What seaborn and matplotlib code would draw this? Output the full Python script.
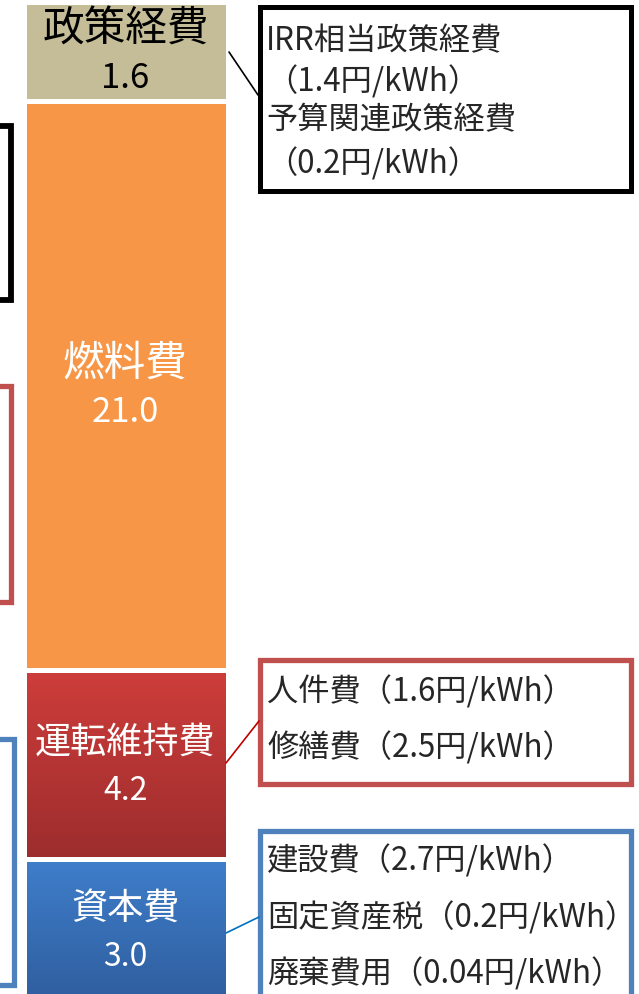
import numpy as np
import pandas as pd
import seaborn as sns
import matplotlib.pyplot as plt
from matplotlib.patches import Rectangle

# stacked cost components (円/kWh), bottom to top
categories = ['資本費', '運転維持費', '燃料費', '政策経費']
values = [3.0, 4.2, 21.0, 1.6]

policy_details = ['IRR相当政策経費', '（1.4円/kWh）', '予算関連政策経費', '（0.2円/kWh）']
om_details = ['人件費（1.6円/kWh）', '修繕費（2.5円/kWh）']
capital_details = ['建設費（2.7円/kWh）', '固定資産税（0.2円/kWh）', '廃棄費用（0.04円/kWh）']

W, H = 639, 994
colors = ['#3E7DC9', '#CD3D3B', '#F79646', '#C4BD97']
gradients = {0: ('#3F7ECB', '#2F5E9E'), 1: ('#CE3D3B', '#9C2D2D')}

sns.set_theme(style='white')
plt.rcParams['font.family'] = ['Noto Sans CJK JP', 'DejaVu Sans']

fig = plt.figure(figsize=(W / 100, H / 100), dpi=100)
ax = fig.add_axes([0, 0, 1, 1])

df = pd.DataFrame({'項目': categories, '値': values})
df['bottom'] = df['値'].cumsum() - df['値']
for i, row in df.iterrows():
    sns.barplot(x=['x'], y=[row['値']], bottom=row['bottom'], color=colors[i],
                saturation=1, width=0.8, edgecolor='white', linewidth=3.6, ax=ax)

# the stack in the source is not drawn to scale: piecewise linear value axis
cum = np.concatenate([[0], np.cumsum(values)])
edge_px = H - np.array([1001, 859, 669.5, 101, 2.0])


def _pw(v, xs, ys):
    v = np.asarray(v, dtype=float)
    out = np.interp(v, xs, ys)
    lo = ys[0] + (v - xs[0]) * (ys[1] - ys[0]) / (xs[1] - xs[0])
    hi = ys[-1] + (v - xs[-1]) * (ys[-1] - ys[-2]) / (xs[-1] - xs[-2])
    return np.where(v < xs[0], lo, np.where(v > xs[-1], hi, out))


def forward(v):
    return _pw(v, cum, edge_px)


def inverse(d):
    return _pw(d, edge_px, cum)


ax.set_yscale('function', functions=(forward, inverse))
ax.set_ylim(float(inverse(0)), float(inverse(H)))
ppu = (227.5 - 23.5) / 0.8
x0 = -0.4 - 23.5 / ppu
ax.set_xlim(x0, x0 + W / ppu)
ax.set_axis_off()

# vertical gradients on the lower two segments
for i, (top, bot) in gradients.items():
    p = ax.patches[i]
    bb = p.get_window_extent()
    (ax0, ay0), (ax1, ay1) = ax.transAxes.inverted().transform([[bb.x0, bb.y0], [bb.x1, bb.y1]])
    c1 = np.array(plt.matplotlib.colors.to_rgb(top))
    c2 = np.array(plt.matplotlib.colors.to_rgb(bot))
    t = np.linspace(0, 1, 256)[:, None]
    img = (c1 * (1 - t) + c2 * t)[:, None, :]
    ax.imshow(img, extent=[ax0, ax1, ay0, ay1], transform=ax.transAxes,
              aspect='auto', origin='upper', zorder=1.5, interpolation='bilinear')
    p.set_facecolor('none')
    p.set_zorder(2)

# segment labels
name_sizes = [26, 26, 30, 30]
value_sizes = [23, 23, 25, 25]
text_colors = ['white', 'white', 'white', 'black']
for i, (name, v) in enumerate(zip(categories, values)):
    mid = (cum[i] + cum[i + 1]) / 2
    ax.annotate(name, xy=(0, mid), xytext=(0, 15.5), textcoords='offset points',
                ha='center', va='center', fontsize=name_sizes[i], color=text_colors[i], zorder=4)
    ax.annotate(f'{v:.1f}', xy=(0, mid), xytext=(0, -19.5), textcoords='offset points',
                ha='center', va='center', fontsize=value_sizes[i], color=text_colors[i], zorder=4)


def px(x, y):
    return x / W, 1 - y / H


def box(x0p, y0p, x1p, y1p, color, lw):
    (a, b), (c, d) = px(x0p, y1p), px(x1p, y0p)
    ax.add_patch(Rectangle((a, b), c - a, d - b, transform=ax.transAxes, fill=False,
                           edgecolor=color, linewidth=lw, clip_on=False, zorder=3))


def link(p0, p1, color):
    xs, ys = zip(px(*p0), px(*p1))
    ax.plot(xs, ys, transform=ax.transAxes, color=color, linewidth=1.2, zorder=3)


# detail boxes on the right
box(260, 6.5, 631, 190.5, 'black', 3.6)
box(260, 660, 631, 784, '#C0504D', 3.8)
box(259.5, 831, 631, 1000, '#4F81BD', 3.8)
link((229, 52), (258, 95), 'black')
link((226, 763), (259, 721), '#C00000')
link((226, 933), (259, 917), '#0070C0')

for line, y in zip(policy_details, [41, 82, 120, 164]):
    ax.text(*px(266, y), line, transform=ax.transAxes, ha='left', va='center', fontsize=22.5)
for line, y in zip(om_details, [692, 748]):
    ax.text(*px(267, y), line, transform=ax.transAxes, ha='left', va='center', fontsize=22.5)
for line, y in zip(capital_details, [861, 918, 974]):
    ax.text(*px(267, y), line, transform=ax.transAxes, ha='left', va='center', fontsize=22.5)

# edges of neighbouring boxes cut by the frame on the left
box(-20, 126, 11, 300, 'black', 4.2)
box(-20, 386, 11, 602, '#C0504D', 3.8)
box(-20, 739, 14, 985, '#4F81BD', 3.8)

fig.savefig('out.png', dpi=100)
